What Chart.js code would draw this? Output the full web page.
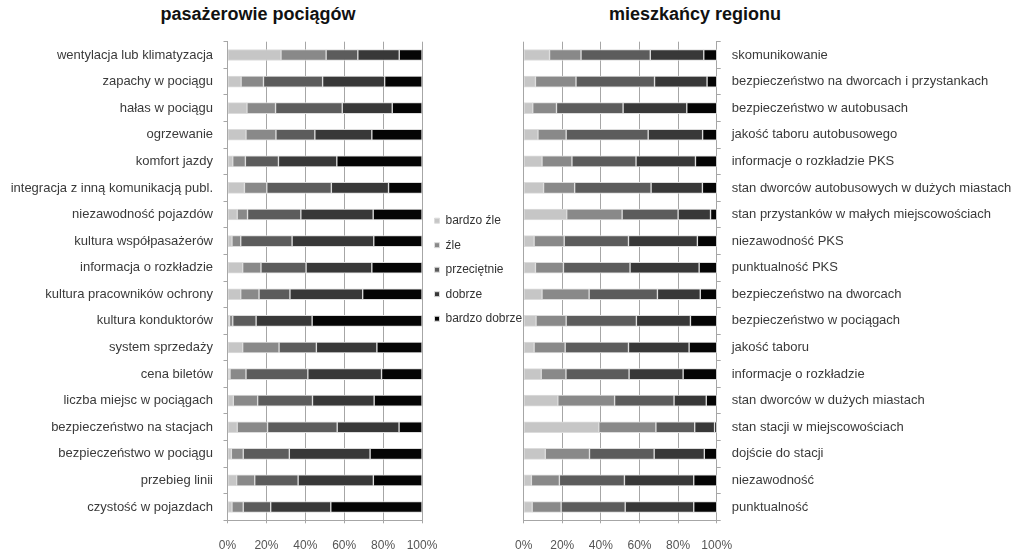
<!DOCTYPE html>
<html>
<head>
<meta charset="utf-8">
<script src="https://cdn.jsdelivr.net/npm/chart.js@4"></script>
<style>
  body { margin: 0; background: #fff; width: 1024px; height: 554px; overflow: hidden; position: relative; font-family: "Liberation Sans", Arial, sans-serif; }
  .box { position: absolute; top: 0; height: 554px; }
  .title { position: absolute; top: 5px; width: 300px; text-align: center; font-weight: bold; font-size: 18px; line-height: 18px; color: #111; }
</style>
</head>
<body>
<div class="title" style="left:108px">pasażerowie pociągów</div>
<div class="title" style="left:545px">mieszkańcy regionu</div>
<div class="box" style="left:0; width:522px"><canvas id="trainChart"></canvas></div>
<div class="box" style="left:500px; width:524px"><canvas id="regionChart"></canvas></div>
<script>
const ratings = ['bardzo źle', 'źle', 'przeciętnie', 'dobrze', 'bardzo dobrze'];
const ratingColors = ['#c6c6c6', '#898989', '#5c5c5c', '#383838', '#050505'];
const xTicks = [0, 20, 40, 60, 80, 100];

// pasażerowie pociągów
const trainLabels = ['wentylacja lub klimatyzacja', 'zapachy w pociągu', 'hałas w pociągu', 'ogrzewanie',
  'komfort jazdy', 'integracja z inną komunikacją publ.', 'niezawodność pojazdów', 'kultura współpasażerów',
  'informacja o rozkładzie', 'kultura pracowników ochrony', 'kultura konduktorów', 'system sprzedaży',
  'cena biletów', 'liczba miejsc w pociągach', 'bezpieczeństwo na stacjach', 'bezpieczeństwo w pociągu',
  'przebieg linii', 'czystość w pojazdach'];
const trainVeryBad  = [27.5, 7, 10, 9.5, 2.7, 8.7, 5, 2.3, 7.8, 6.8, 1, 7.8, 1.3, 3, 5, 2, 4.7, 2.3];
const trainBad      = [23.2, 11.5, 14.7, 15.4, 6.5, 11.5, 5.3, 4.5, 9.4, 9.4, 1.7, 18.7, 8.2, 12.5, 15.6, 6.1, 9.3, 5.8];
const trainAverage  = [16.3, 30.4, 34.3, 20, 17, 33.2, 27.4, 26.4, 23.2, 15.9, 12, 19.2, 31.8, 28.2, 35.8, 23.7, 22.3, 14.1];
const trainGood     = [21.3, 31.9, 25.7, 29.3, 30, 29.4, 37.2, 42, 33.8, 37.4, 28.8, 31.1, 37.9, 31.7, 31.8, 41.5, 38.7, 30.9];
const trainVeryGood = [11.7, 19.2, 15.3, 25.8, 43.8, 17.2, 25.1, 24.8, 25.8, 30.5, 56.5, 23.2, 20.8, 24.6, 11.8, 26.7, 25, 46.9];

// mieszkańcy regionu
const regionLabels = ['skomunikowanie', 'bezpieczeństwo na dworcach i przystankach', 'bezpieczeństwo w autobusach',
  'jakość taboru autobusowego', 'informacje o rozkładzie PKS', 'stan dworców autobusowych w dużych miastach',
  'stan przystanków w małych miejscowościach', 'niezawodność PKS', 'punktualność PKS', 'bezpieczeństwo na dworcach',
  'bezpieczeństwo w pociągach', 'jakość taboru', 'informacje o rozkładzie', 'stan dworców w dużych miastach',
  'stan stacji w miejscowościach', 'dojście do stacji', 'niezawodność', 'punktualność'];
const regionVeryBad  = [13.4, 6.1, 4.7, 7.4, 9.5, 10.3, 22.3, 5.4, 6.1, 9.5, 6.4, 5.4, 9.1, 17.7, 38.9, 11.2, 4, 4.4];
const regionBad      = [16.3, 21, 12.3, 14.6, 15.5, 16.1, 28.7, 15.6, 14.5, 24.4, 15.6, 16.1, 12.8, 29.4, 29.6, 22.9, 14.5, 15];
const regionAverage  = [35.9, 40.7, 34.5, 42.5, 33.2, 39.6, 29, 33.3, 34.5, 35.4, 36.4, 32.8, 32.7, 30.8, 20.1, 33.5, 33.7, 33.2];
const regionGood     = [27.7, 27.2, 33, 28.2, 30.8, 26.6, 16.8, 35.7, 35.8, 22.2, 28, 31.4, 28, 16.7, 10.3, 26, 35.9, 35.5];
const regionVeryGood = [6.7, 5, 15.5, 7.3, 11, 7.4, 3.2, 10, 9.1, 8.5, 13.6, 14.3, 17.4, 5.4, 1.1, 6.4, 11.9, 11.9];

Chart.defaults.font.family = '"Liberation Sans", Arial, sans-serif';
Chart.defaults.animation = false;

const gridColor = '#a6a6a6';

function makeDatasets(series) {
  return series.map((values, i) => ({
    label: ratings[i],
    data: values,
    backgroundColor: ratingColors[i],
    borderColor: '#dcdcdc',
    borderWidth: 1,
    borderSkipped: false,
    barThickness: 11
  }));
}

function makeChart(id, labels, series, side) {
  const isLeft = side === 'left';
  return new Chart(document.getElementById(id), {
    type: 'bar',
    data: { labels: labels, datasets: makeDatasets(series) },
    options: {
      indexAxis: 'y',
      responsive: true,
      maintainAspectRatio: false,
      layout: { padding: isLeft ? { top: 41.7 } : { top: 41.7, left: 21.5 } },
      plugins: {
        tooltip: { enabled: false },
        legend: {
          display: isLeft,
          position: 'right',
          align: 'start',
          maxWidth: 100,
          title: { display: true, text: '', padding: { top: 146.1, bottom: 0 }, font: { size: 12 } },
          labels: { boxWidth: 5, boxHeight: 5, padding: 12.5, color: '#333', font: { size: 12 } }
        }
      },
      scales: {
        x: {
          stacked: true,
          min: 0,
          max: 100,
          afterBuildTicks: s => { s.ticks = xTicks.map(v => ({ value: v })); },
          afterFit: s => { s.height = 33.7; },
          grid: { color: gridColor, tickLength: 3 },
          border: { color: gridColor },
          ticks: { padding: 15, color: '#555', font: { size: 12 }, callback: v => v + '%' }
        },
        y: {
          stacked: true,
          position: side,
          afterFit: s => { s.width = isLeft ? 227.5 : 307.3; },
          grid: { drawOnChartArea: false, color: gridColor, tickLength: 4 },
          border: { color: gridColor },
          ticks: { padding: isLeft ? 10.5 : 11, color: '#3a3a3a', font: { size: 13 } }
        }
      }
    }
  });
}

makeChart('trainChart', trainLabels, [trainVeryBad, trainBad, trainAverage, trainGood, trainVeryGood], 'left');
makeChart('regionChart', regionLabels, [regionVeryBad, regionBad, regionAverage, regionGood, regionVeryGood], 'right');
</script>
</body>
</html>
